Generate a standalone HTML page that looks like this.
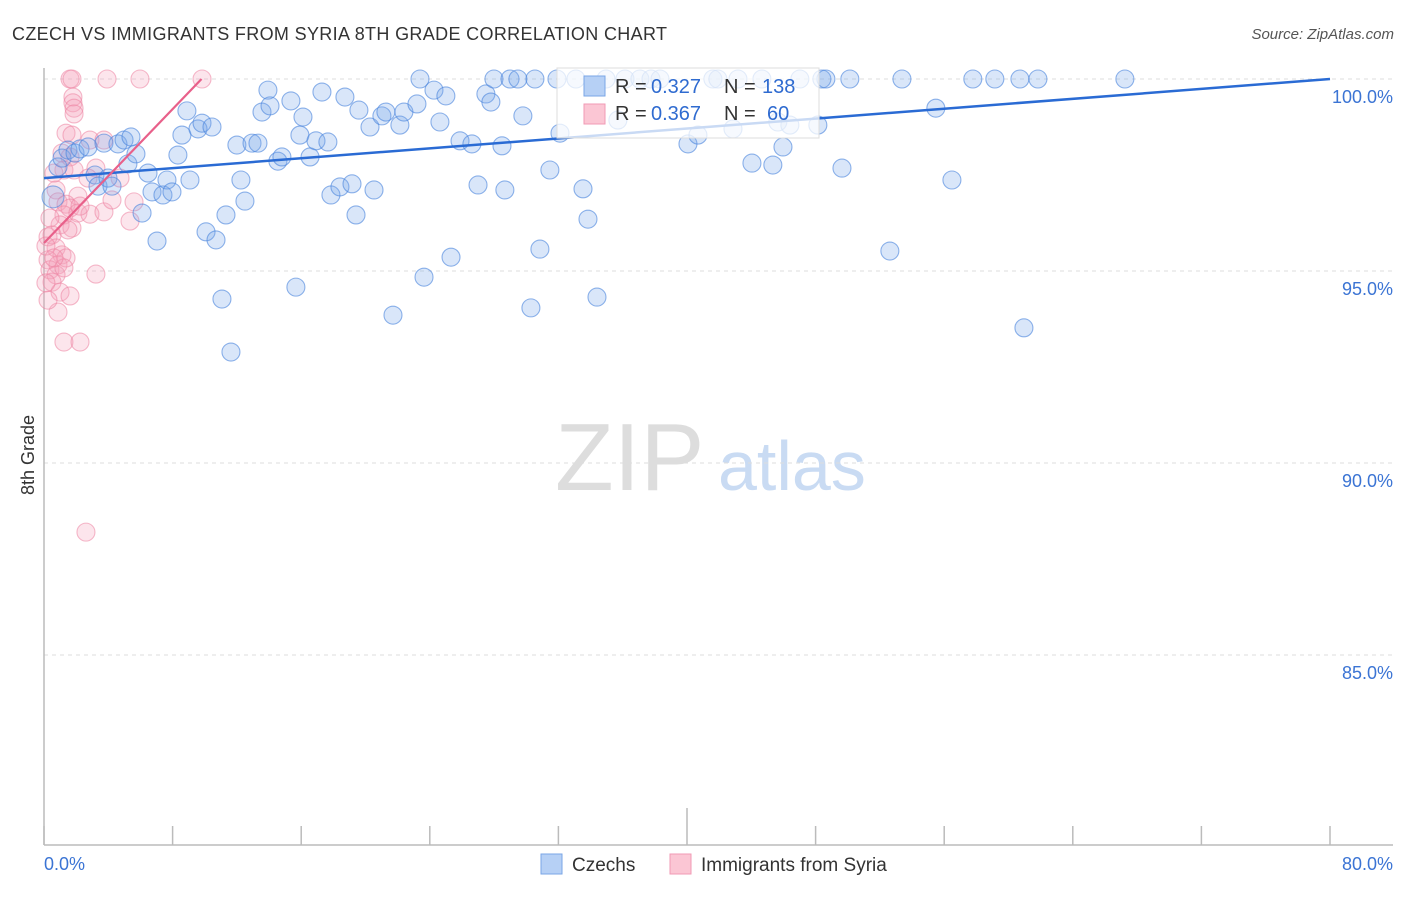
<!DOCTYPE html>
<html><head><meta charset="utf-8"><style>
body{margin:0;background:#fff;font-family:"Liberation Sans",sans-serif;}
svg text{font-family:"Liberation Sans",sans-serif;}
</style></head><body>
<svg id="chart" width="1406" height="892" xmlns="http://www.w3.org/2000/svg">
<text x="12" y="40" font-size="18" fill="#333" textLength="655">CZECH VS IMMIGRANTS FROM SYRIA 8TH GRADE CORRELATION CHART</text>
<text x="1394" y="39" font-size="15" fill="#555" font-style="italic" text-anchor="end">Source: ZipAtlas.com</text>
<text x="555" y="490" font-size="96" fill="#ddd" font-family="Liberation Serif">ZIP</text>
<text x="718" y="490" font-size="70" fill="#c9dbf3">atlas</text>
<text transform="translate(34,455) rotate(-90)" font-size="18" fill="#333" text-anchor="middle">8th Grade</text>
<g id="grid"></g><g id="axes"></g><g id="pts"></g><g id="lines"></g>
<g>
<rect x="557" y="68" width="262" height="70" fill="rgba(255,255,255,0.75)" stroke="#ddd"/>
<rect x="584" y="76" width="21" height="20" fill="#b6d0f5" stroke="#7aa6e6"/>
<rect x="584" y="104" width="21" height="20" fill="#fbc6d4" stroke="#f09ab4"/>
<text x="615" y="93" font-size="20" fill="#333">R =</text>
<text x="651" y="93" font-size="20" fill="#2f6bd0">0.327</text>
<text x="724" y="93" font-size="20" fill="#333">N =</text>
<text x="762" y="93" font-size="20" fill="#2f6bd0">138</text>
<text x="615" y="120" font-size="20" fill="#333">R =</text>
<text x="651" y="120" font-size="20" fill="#2f6bd0">0.367</text>
<text x="724" y="120" font-size="20" fill="#333">N =</text>
<text x="767" y="120" font-size="20" fill="#2f6bd0">60</text>
</g>
<g>
<rect x="541" y="854" width="21" height="20" fill="#b6d0f5" stroke="#7aa6e6"/>
<text x="572" y="871" font-size="19" fill="#333">Czechs</text>
<rect x="670" y="854" width="21" height="20" fill="#fbc6d4" stroke="#f09ab4"/>
<text x="701" y="871" font-size="19" fill="#333">Immigrants from Syria</text>
</g>
</svg>
<script>
const xTicks=[0,8,16,24,32,40,48,56,64,72,80];
const yTicks=[100,95,90,85];
const yTickLabels=["100.0%","95.0%","90.0%","85.0%"];
const xEndLabels=["0.0%","80.0%"];
const czechX=[0.56,0.87,1.12,1.49,1.93,2.24,2.74,3.17,3.36,3.73,3.98,4.23,4.60,4.98,5.22,5.41,5.72,6.10,6.47,6.72,7.03,7.40,7.65,7.96,8.33,8.58,8.89,9.08,9.58,9.83,10.08,10.45,10.70,11.07,11.32,11.63,12.00,12.25,12.50,12.94,13.31,13.56,13.93,14.06,14.55,14.80,15.36,15.67,15.92,16.11,16.55,16.92,17.29,17.66,17.85,18.41,18.72,19.16,19.41,19.59,20.28,20.53,21.02,21.27,21.71,22.14,22.39,23.20,23.39,23.64,24.26,24.63,25.00,25.32,25.88,26.62,27.00,27.49,27.80,27.99,28.49,28.67,28.99,29.48,29.79,30.29,30.54,30.85,31.47,31.91,32.10,33.09,33.53,33.84,34.40,34.96,35.70,36.14,37.07,37.76,38.32,40.06,40.68,41.61,41.92,42.86,43.17,44.04,44.66,45.34,45.65,45.97,46.40,47.02,48.14,48.39,48.64,49.64,50.13,52.62,53.37,55.48,56.48,57.78,59.15,60.71,60.96,61.83,67.24];
const czechY=[96.93,97.71,97.94,98.15,98.07,98.18,98.23,97.50,97.21,98.33,97.42,97.21,98.31,98.41,97.79,98.49,98.05,96.51,97.55,97.06,95.78,96.98,97.37,97.06,98.02,98.54,99.17,97.37,98.70,98.85,96.02,98.75,95.81,94.27,96.46,92.89,98.28,97.37,96.82,98.33,98.33,99.14,99.71,99.30,97.86,97.97,99.43,94.58,98.54,99.01,97.97,98.39,99.66,98.36,96.98,97.19,99.53,97.27,96.46,99.19,98.75,97.11,99.04,99.14,93.85,98.80,99.14,99.35,100,94.84,99.71,98.88,99.56,95.36,98.39,98.31,97.24,99.61,99.40,100,98.26,97.11,100,100,99.04,94.04,100,95.57,97.63,100,98.59,100,97.14,96.35,94.32,100,98.93,100,100,100,100,98.31,98.54,100,100,98.70,100,97.81,100,97.76,98.88,98.23,98.80,100,98.80,100,100,97.68,100,95.52,100,99.24,97.37,100,100,100,93.52,100,100];
const syriaX=[1.62,1.74,3.92,5.97,9.83,1.80,1.80,1.87,1.87,1.37,1.74,2.86,1.12,1.62,1.24,1.87,3.23,2.74,0.75,2.11,0.87,1.37,1.62,1.24,2.11,2.86,3.73,5.35,5.60,1.00,1.74,0.25,0.50,0.75,1.12,0.25,0.87,1.37,0.37,0.75,1.24,0.50,1.00,1.62,3.23,0.87,1.24,2.24,0.25,2.61,0.12,0.62,0.37,1.49,0.12,3.73,2.24,4.23,4.73,0.62];
const syriaY=[100,100,100,100,100,99.53,99.38,99.24,99.09,98.59,98.54,98.41,98.07,97.97,97.63,97.63,97.68,97.42,97.11,96.95,96.80,96.74,96.64,96.46,96.51,96.48,96.54,96.30,96.80,96.20,96.12,95.89,95.94,95.60,95.42,95.29,95.16,95.34,95.03,94.90,95.08,94.71,94.45,94.35,94.92,93.93,93.15,93.15,94.24,88.20,95.65,95.34,96.38,96.07,94.69,98.41,96.69,96.85,97.42,97.55];
const czechTrend=[0,97.42,80,100];
const syriaTrend=[0,95.73,9.8,100];
const NS="http://www.w3.org/2000/svg";
const X=v=>44+v/80*1286;
const Y=v=>79+(100-v)*38.4;
function mk(tag,attrs,parent){const e=document.createElementNS(NS,tag);for(const k in attrs)e.setAttribute(k,attrs[k]);parent.appendChild(e);return e;}
const grid=document.getElementById('grid'),axes=document.getElementById('axes'),pts=document.getElementById('pts'),lines=document.getElementById('lines');
yTicks.forEach((t,i)=>{
 const l=mk('line',{x1:44,x2:1393,y1:Y(t),y2:Y(t),stroke:'#ddd','stroke-dasharray':'4,4'},grid);
 
 
 const tx=mk('text',{x:1393,y:Y(t)+24,'font-size':18,fill:'#3b74d4','text-anchor':'end'},axes);
 tx.textContent=yTickLabels[i];
 
 
});
const ax=mk('line',{x1:44,x2:1393,y1:845,y2:845,stroke:'#bbb','stroke-width':1.5},axes);


const ay=mk('line',{x1:44,x2:44,y1:68,y2:845,stroke:'#bbb','stroke-width':1.5},axes);


xTicks.forEach((t,i)=>{
 const tk=mk('line',{x1:X(t),x2:X(t),y1:(i===5?808:826),y2:845,stroke:'#bbb','stroke-width':1.5},axes);
 
 
});
const xl0=mk('text',{x:44,y:870,'font-size':18,fill:'#3b74d4'},axes);
xl0.textContent=xEndLabels[0];


const xl1=mk('text',{x:1393,y:870,'font-size':18,fill:'#3b74d4','text-anchor':'end'},axes);
xl1.textContent=xEndLabels[1];


syriaX.forEach((v,i)=>{
 const c=mk('circle',{cx:X(v),cy:Y(syriaY[i]),r:9,fill:'rgba(246,160,185,0.28)',stroke:'rgba(236,130,160,0.55)','stroke-width':1.1},pts);
 
 
});
czechX.forEach((v,i)=>{
 const c=mk('circle',{cx:X(v),cy:Y(czechY[i]),r:(i===0?11:9),fill:'rgba(120,165,235,0.28)',stroke:'rgba(70,130,220,0.6)','stroke-width':1.1},pts);
 
 
});
const tl1=mk('line',{x1:X(czechTrend[0]),y1:Y(czechTrend[1]),x2:X(czechTrend[2]),y2:Y(czechTrend[3]),stroke:'#2a6bd4','stroke-width':2.5},lines);


const tl2=mk('line',{x1:X(syriaTrend[0]),y1:Y(syriaTrend[1]),x2:X(syriaTrend[2]),y2:Y(syriaTrend[3]),stroke:'#e8608a','stroke-width':2.2},lines);


</script>
</body></html>
